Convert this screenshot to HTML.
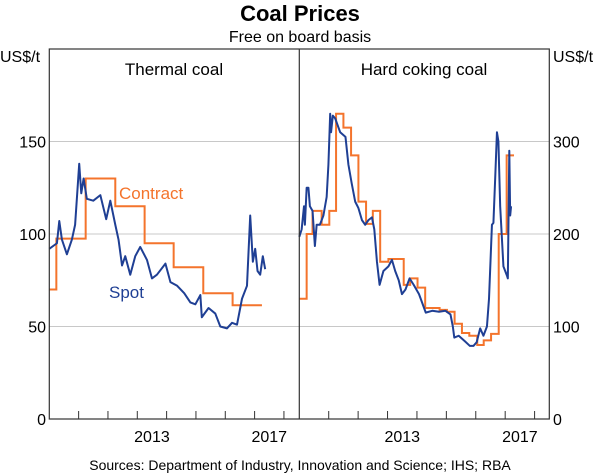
<!DOCTYPE html>
<html><head><meta charset="utf-8"><style>
body{margin:0;background:#fff;}
svg{display:block;font-family:"Liberation Sans",Arial,sans-serif;}
</style></head><body>
<svg id="chart" width="600" height="475" viewBox="0 0 600 475" xmlns="http://www.w3.org/2000/svg">
<text x="300" y="21" text-anchor="middle" font-size="22" font-weight="bold">Coal Prices</text>
<text x="300" y="42" text-anchor="middle" font-size="16">Free on board basis</text>
<text x="0" y="62" font-size="16">US$/t</text>
<text x="553" y="62" font-size="16">US$/t</text>
<text x="174" y="75" text-anchor="middle" font-size="17">Thermal coal</text>
<text x="424" y="75" text-anchor="middle" font-size="17">Hard coking coal</text>
<g id="grid"></g><g id="marks"></g><g id="axes"></g>
<text x="119" y="199" font-size="17" fill="#f4742c">Contract</text>
<text x="109" y="298" font-size="17" fill="#1f3f94">Spot</text>
<text x="300" y="470" text-anchor="middle" font-size="14">Sources:  Department of Industry, Innovation and Science; IHS; RBA</text>
</svg>
<script>
const xTickYears=[2011,2012,2013,2014,2015,2016,2017,2018];
const xLabelYears=[2013,2017];
const leftTicks=[0,50,100,150];
const rightTicks=[0,100,200,300];
const thermalContractYears=[2010,2010.24,2011.24,2012.25,2013.25,2014.24,2015.25,2016.25,2017.25];
const thermalContractValues=[70,97.5,130,115,95,82,68,61.5];
const thermalSpotYears=[2010,2010.26,2010.34,2010.43,2010.6,2010.77,2010.88,2011.02,2011.09,2011.17,2011.28,2011.5,2011.74,2011.94,2012.08,2012.25,2012.36,2012.48,2012.59,2012.76,2012.93,2013.1,2013.33,2013.5,2013.67,2013.96,2014.13,2014.36,2014.6,2014.81,2014.98,2015.15,2015.2,2015.43,2015.66,2015.83,2016.06,2016.23,2016.4,2016.57,2016.74,2016.85,2016.94,2017.02,2017.1,2017.19,2017.28,2017.36];
const thermalSpotValues=[92,95,107,97,89,97,105,138,122,130,119,118,121,108,118,105,97,83,88,78,88,93,86,76,78,84,74,72,68,63,62,67,55,60,57,50,49,52,51,65,72,110,85,92,80,78,88,81];
const cokingContractYears=[2010,2010.25,2010.45,2010.76,2011.02,2011.25,2011.5,2011.76,2012.01,2012.27,2012.5,2012.75,2013.03,2013.55,2013.77,2014.02,2014.28,2014.77,2015.02,2015.28,2015.53,2015.78,2016.05,2016.27,2016.52,2016.78,2017.05,2017.3];
const cokingContractValues=[130,200,225,210,225,330,315,285,235,211,225,170,173,145,152,142,120,118,116,103,93,90,80,85,92,200,285];
const cokingSpotYears=[2010,2010.08,2010.16,2010.19,2010.25,2010.31,2010.36,2010.45,2010.53,2010.59,2010.7,2010.82,2010.93,2010.99,2011.05,2011.08,2011.14,2011.22,2011.39,2011.57,2011.67,2011.78,2011.9,2012.01,2012.13,2012.24,2012.35,2012.47,2012.55,2012.64,2012.73,2012.86,2013.03,2013.15,2013.26,2013.38,2013.49,2013.61,2013.75,2013.89,2014.07,2014.3,2014.52,2014.75,2014.97,2015.14,2015.22,2015.27,2015.42,2015.63,2015.8,2015.92,2016.03,2016.15,2016.26,2016.38,2016.45,2016.55,2016.6,2016.66,2016.72,2016.77,2016.83,2016.94,2017.06,2017.09,2017.14,2017.17,2017.2];
const cokingSpotValues=[197,205,230,210,250,250,230,225,187,210,210,220,240,275,330,310,328,325,310,305,275,255,235,228,215,210,215,218,205,170,145,160,165,172,160,150,135,140,152,145,135,115,117,116,117,113,100,88,90,84,79,79,83,98,90,100,130,210,212,260,310,300,230,165,155,152,290,220,230];

const NS='http://www.w3.org/2000/svg';
const grid=document.getElementById('grid'),marks=document.getElementById('marks'),axes=document.getElementById('axes');
const Y0=419,Y1=49,X0=2010,X1=2018.5;
function xl(y){return 49.3+(y-X0)/(X1-X0)*249.3;}
function xr(y){return 299.3+(y-X0)/(X1-X0)*250;}
function yl(v){return Y0-v/200*(Y0-Y1);}
function yr(v){return Y0-v/400*(Y0-Y1);}
function mk(tag,attrs,parent){const e=document.createElementNS(NS,tag);for(const k in attrs)e.setAttribute(k,attrs[k]);parent.appendChild(e);return e;}
leftTicks.forEach((t,i)=>{if(t===0)return;
 const g=mk('line',{x1:49.3,x2:549.3,y1:yl(t),y2:yl(t),stroke:'#c8c8c8','stroke-width':1},grid);
 
 });
function stepPath(xs,vs,xf,yf){let d='';for(let i=0;i<vs.length;i++){d+=(i?'L':'M')+xf(xs[i])+' '+yf(vs[i])+'L'+xf(xs[i+1])+' '+yf(vs[i]);}return d;}
function linePath(xs,vs,xf,yf){return xs.map((x,i)=>(i?'L':'M')+xf(x)+' '+yf(vs[i])).join('');}
let p;
p=mk('path',{d:stepPath(thermalContractYears,thermalContractValues,xl,yl),fill:'none',stroke:'#f4742c','stroke-width':2},marks);


p=mk('path',{d:stepPath(cokingContractYears,cokingContractValues,xr,yr),fill:'none',stroke:'#f4742c','stroke-width':2},marks);


p=mk('path',{d:linePath(thermalSpotYears,thermalSpotValues,xl,yl),fill:'none',stroke:'#1f3f94','stroke-width':2,'stroke-linejoin':'round'},marks);


p=mk('path',{d:linePath(cokingSpotYears,cokingSpotValues,xr,yr),fill:'none',stroke:'#1f3f94','stroke-width':2,'stroke-linejoin':'round'},marks);


const fr=mk('rect',{x:49.3,y:Y1,width:500,height:Y0-Y1,fill:'none',stroke:'#333','stroke-width':1.2},axes);


const dv=mk('line',{x1:299.3,x2:299.3,y1:Y1,y2:Y0,stroke:'#333','stroke-width':1.2},axes);


xTickYears.forEach(y=>{[xl,xr].forEach(f=>{
 const t=mk('line',{x1:f(y),x2:f(y),y1:Y0,y2:Y0-8,stroke:'#333','stroke-width':1},axes);
 
 });});
xLabelYears.forEach(y=>{[xl,xr].forEach(f=>{
 const t=mk('text',{x:f(y+0.5),y:442,'text-anchor':'middle','font-size':16},axes);
 t.textContent=y;
 
 });});
leftTicks.forEach(v=>{const t=mk('text',{x:46,y:yl(v)+6,'text-anchor':'end','font-size':16},axes);t.textContent=v;
 
 });
rightTicks.forEach(v=>{const t=mk('text',{x:553,y:yr(v)+6,'font-size':16},axes);t.textContent=v;
 
 });
</script>
</body></html>
